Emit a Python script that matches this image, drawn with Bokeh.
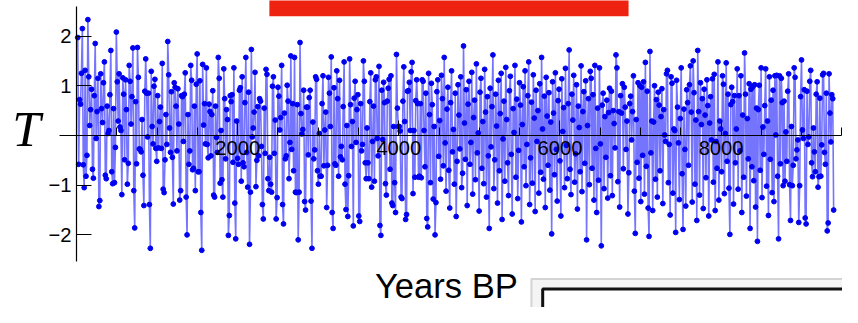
import numpy as np
from bokeh.plotting import figure
from bokeh.models import FixedTicker, Range1d
from bokeh.core.properties import value
from bokeh.embed import file_html
from bokeh.resources import INLINE

# ---- data (T anomaly vs Years BP), left to right ----
temp_0_1000 = [1.97, -0.58, 0.72, 0.63, 1.25, 2.15, -0.59, -1.05, 1.31, -0.82, -0.40, 2.33, 1.18, 0.20, 0.52, 0.93,
               -0.68, -0.86, 0.80, 1.85, -0.06, 0.48, 1.15, -1.43, -1.31, 1.24, 0.54, 0.26, 1.06, 1.48, -0.80, -0.87,
               0.59, 0.04, 0.10, 0.82, 1.71, -0.73, -0.97, 0.54, -0.95, -0.24, 2.08, 1.08, 0.29, 1.24, 0.17, 0.10,
               -1.19, 1.16, 0.83, -0.49, 1.12, 0.52, -0.98, -0.56, 1.41, 1.09, 0.23, 0.78, 1.76, -1.11, -1.86, 0.68,
               -0.57,
               1.77, 1.17, -0.27, -0.28, -0.33, 0.32, -0.80, -1.41, 0.89, 1.54, 0.85, -0.03, 0.85, -1.39, -2.27,
               1.29, 0.18, -0.17, 0.99, 1.13, -0.26, -0.52, 0.80, -0.25, 0.28, 0.57, -0.26, 1.45, -1.08, -1.15, -0.49,
               0.42, -0.18, 1.89, 1.22, 0.15, -0.34, 0.88, -0.44, -1.38, 1.06, 0.97, 0.59, -0.31, 0.94, 0.23, -1.30,
               -1.11, 0.80, 0.78, -0.12, 0.83, 1.26, -1.24, -2.00, 0.42, -0.58, -0.31, 1.41, 1.11, -0.69, -0.66, 0.59,
               -1.11, 1.03]
temp_1400_2400 = [1.64, -0.73, -0.73, 1.10, -1.55, -2.31, 1.43, 0.21, 0.64, -0.17, 1.36, -0.18, -0.45, 0.63, 0.48,
                  -0.41, 0.42, 0.90, -1.20, -1.24, 0.59, -0.04, -0.34, 1.57, 1.15, -0.96, 0.10, -0.89, -1.24, 1.34,
                  0.74, -0.47, 0.52, 0.32, -2.01, -1.61, 0.80, 0.68, 0.82, -0.54, 1.36, -1.36, -2.08, 0.29, -0.46,
                  -0.58, 0.91, 0.96, -0.92, 1.18, -0.55, -0.63, 0.66, 1.57, -0.34, -1.04, 0.87, -2.19, -1.14, 1.73,
                  -0.03, 0.15, 0.47, 1.27, -1.03, -0.50, 0.58, -0.41, 0.74, 0.69, -0.22, -1.39, -1.68, 0.55, -0.36,
                  1.33, 1.23, -0.87, -1.11, -0.44, -0.98, -1.14, 0.99, 1.18, -0.36]
temp_2400_3400 = [0.31, -1.68, -1.25, 0.97, 0.79, 0.11, 0.36, 1.41, -1.39, -1.78, 0.45, -0.47, -0.41, 1.01, 0.69,
                  -0.87, -0.14, 1.60, -0.28, 0.64, -0.71, 1.57, -1.14, -1.15, 0.62, -2.10, -1.14, 1.87, 0.44, 0.03,
                  0.12, 0.91, -1.33, -1.50, 0.57, 0.57, -0.39, 0.76, 0.91, -1.32, -2.27, 0.27, -0.47, -0.29, 1.18,
                  1.13, -0.71, -0.98, 0.04, -0.82, -0.82, 0.64, 1.20, -0.61, 0.11, 0.47, -1.45, -0.60, 1.17, 0.85,
                  0.18, 1.58, -1.55, -1.87, 0.96, -0.57, -0.60, 1.30, 0.74, -0.82, 1.11, -0.43, -0.22, -0.49, 0.58,
                  1.48, -0.98, -1.49, 0.20, -1.63, -0.81, 1.54, 0.62, -0.22, 0.28, -1.82]
temp_3400_4350 = [0.75, 1.09, -0.14, 0.52, 0.82, -1.62, -1.73, 0.64, -0.31, -0.18, 1.50, 1.09, -0.55, -0.87, 0.15,
                  -0.55, -0.87, 0.68, 1.26, -1.04, -0.12, 0.59, -0.92, 1.12, 1.18, -0.06, -0.41, 1.39, -1.81, -2.01,
                  0.91, -0.08, 1.07, 0.66, -0.97, -1.20, 0.69, 0.95, 1.13, -0.68, 1.20, -1.36, -1.41, 0.18, -0.95,
                  -1.55, 1.63, 0.55, 0.18, 0.18, 0.09, -1.24, -1.27, 0.69, 1.38, 0.28, -1.69, -1.59, 0.89, 0.90, 1.07,
                  0.10, 1.28, 1.47, -1.17, 0.10, -0.84, 0.70, 1.12, 0.64, -0.84, -0.82, 0.64, -0.85, 1.12, 1.09, 0.10,
                  -0.63, 0.85, -1.67, -1.84, 1.25]
temp_4350_6400 = [0.42, -0.95, 1.05, 0.62, -1.28, 0.18, -2.00, -1.35, 0.88, 1.12, -0.42, 0.30, -0.88, 1.21, 0.74,
                  -0.61, 1.57, -0.15, -1.12, 0.53, 0.97, -0.70,
                  -1.46, 0.66, 1.30, -0.33, 0.12, -0.98, 0.85, -1.63, -0.52, 1.02, 0.41, -0.27, 1.18, -1.05, -0.76,
                  1.80, 0.25, -0.48, 0.92, -1.41, 0.63, 1.09,
                  -0.58, -0.14, 1.27, -1.18, 0.36, 0.71, -0.89, 1.44, -0.35, 0.05, -1.52, 0.87, 1.15, -0.66, 0.28,
                  -0.97, 1.33, 0.47, -1.24, 0.78, -0.41, -1.87,
                  0.95, -0.23, 0.58, 1.62, -1.07, -0.49, 0.83, 0.19, -1.36, 1.11, -0.71, 0.44, 1.25, -1.69, -0.07,
                  0.69, -0.92, 1.37, 0.32, -0.55, -1.21, 0.90,
                  1.19, -0.38, -1.58, 0.54, 0.06, 1.41, -0.84, 0.73, -1.27, -0.30, 1.06, 0.61, -1.74, 0.22, 0.98,
                  -0.63, 1.30, -1.01, -0.18, 0.80, 1.48, -1.39,
                  -0.45, 0.67, -0.96, 1.22, 0.35, -1.53, 0.91, -0.12, 0.50, -1.16, 1.04, -0.74, 1.57, 0.13, -0.88,
                  0.79, -1.45, 1.17, 0.39, -0.60, 0.86, -1.10,
                  0.27, -1.98, 1.08, 0.45, -0.79, 1.26, -0.28, -1.32, 0.70, 0.93, -0.51, -1.62, 1.14, 0.08, 0.56,
                  -1.05, 1.35, -0.20, -0.87, 0.64, 1.72, -0.68,
                  -1.19, 0.83, 0.31, 1.21, -0.94, -0.37, 1.02, -1.48, 0.59, 0.16, -0.73, 1.40, -1.13, 0.48, 0.88,
                  -0.56, 1.10, -2.10, 0.20, 0.74, -0.99, 1.29,
                  1.15, -0.66, 0.82, -1.30, 1.41, -0.26, -1.55, 0.55, -0.90, 1.36, -0.17, -2.22, 0.61, 0.85, -1.07,
                  0.38, -0.44, 0.71, -1.26, 0.46, 0.95, -0.81]
temp_6400_8800 = [0.89, -1.21, 0.50, 0.24, -0.25, 1.62, 1.36, -0.93, 0.48, -1.44, 0.80, 0.45, 1.04, -0.67, 0.97,
                  0.57, -0.28, 0.29, -1.58, -0.75, 0.64, 0.79,
                  -0.09, 0.48, 1.20, -1.12, -1.97, 0.32, -0.54, 1.06, -0.86, 1.00, -1.33, 0.97, -0.40, 1.08, -1.18,
                  1.47, -0.62, 0.89, -1.46, -2.03, 1.69, -0.35,
                  0.29, -1.51, 0.27, 1.00, -0.88, 0.72, -1.24, 0.87, 0.61, -0.71, 0.38, 0.94, -1.37, 0.52, 0.01,
                  -0.12, 1.24, 1.31, -0.95, -0.18, -1.60, 1.18,
                  1.05, -1.16, 0.13, 0.10, -1.95, 1.11, 0.57, -0.15, -1.29, 0.34, 1.36, -0.77, -1.89, 0.53, -0.28,
                  -1.42, 0.92, 0.66, -0.60, 1.02, 1.40, 0.47,
                  -1.34, 1.50, 0.86, -0.98, 0.31, -1.71, 1.71, 0.48, -1.20, 1.06, 0.22, 0.74, -1.47, 0.93, 0.41,
                  -0.85, 1.12, 0.60, -1.62, 0.25, 0.78, -0.09,
                  1.14, -0.94, 1.23, -1.51, -0.12, -0.66, 1.48, -1.30, 0.29, 0.13, -0.73, 1.20, 1.03, -1.17, 0.04,
                  1.46, -0.52, 0.83, -1.06, -1.99, 0.62, 0.97,
                  0.68, -1.38, 0.80, -0.55, 0.13, 1.34, -1.08, 0.80, -0.31, 1.20, -1.55, 0.41, -0.84, 1.66, 0.83,
                  -1.22, 0.34, -0.47, 1.04, -1.87, 0.93, -0.63,
                  0.98, -0.91, 1.02, -1.44, 0.55, -2.13, 0.52, 1.01, -0.70, 1.36, -1.25, 0.17, -0.38, 0.60, 1.34,
                  -1.02, 0.29, -1.61, 1.18, -0.48, 0.71, -1.15,
                  0.91, -1.33, 1.20, 0.01, 1.21, -0.82, -2.08, 1.20, -0.57, 1.15, 0.66, -1.01, 0.69]
temp_8800_9400 = [-0.92, 0.07, -0.52, 0.89, 1.24, -0.99, -1.71, 0.18, -1.01, -0.60, 1.36, 1.17, -0.47, -0.29, -0.09,
                  -1.75, -1.01, 0.78, 1.52, 0.11, -0.06, 0.92, -1.66, -1.78, 0.89, -0.18, -0.03, 1.09, 1.31, -0.55,
                  -0.83, 0.15, -0.33, -0.73, 0.83, 1.08, -1.04, -0.83, 0.75, -0.82, -0.19, 1.22, 1.25, -0.34, -0.58,
                  0.85, -1.92, -1.76, 1.24, 0.45, -0.13, 0.82, 0.74, -1.50]

first_year, last_year = 15, 9397   # the series is evenly spaced in time between these

x_major = [2000, 4000, 6000, 8000]
x_minor = [500 * k for k in range(1, 20) if (500 * k) % 2000 != 0]
y_ticks = [-2, -1, 1, 2]
y_labels = {-2: "\u22122", -1: "\u22121", 1: "1", 2: "2"}

# ---- geometry: reference picture pixels (858 x 323) <-> data ----
W, H = 842, 307
REF_W, REF_H = 858, 323
S = 0.96   # overall shrink of sizes/fonts to fit the canvas
X0_PX, PX_PER_YEAR = 77.5, 0.0821
Y0_PX, PX_PER_UNIT = 142.0, 52.3


def xd(px):
    return (px - X0_PX) / PX_PER_YEAR


def yd(py):
    return (Y0_PX - py) / PX_PER_UNIT


def fs(px):
    return f"{px * S:.1f}px"


temps = (temp_0_1000 + temp_1400_2400 + temp_2400_3400 + temp_3400_4350
         + temp_4350_6400 + temp_6400_8800 + temp_8800_9400)
years = first_year + (last_year - first_year) * np.arange(len(temps)) / (len(temps) - 1)

p = figure(width=W, height=H, output_backend="svg", toolbar_location=None,
           x_range=Range1d(xd(0), xd(REF_W)), y_range=Range1d(yd(REF_H), yd(0)),
           min_border=0, background_fill_color="white", border_fill_color="white")
p.outline_line_color = None
p.grid.visible = False

# red banner at the top
p.quad(left=xd(274), right=xd(640), top=yd(-5), bottom=yd(16.5), fill_color="#EE2210", line_color=None)

# framed box lower right
p.quad(left=xd(541), right=xd(1000), top=yd(293), bottom=yd(500), fill_color="#f4f4f4",
       line_color="#d4d4d4", line_width=2)
p.quad(left=xd(552.5), right=xd(1000), top=yd(303.5), bottom=yd(500), fill_color="white",
       line_color="#111111", line_width=3)

p.line(years, temps, line_color="#2a2aff", line_alpha=0.65, line_width=1.6)
p.scatter(years, temps, size=4.8, fill_color="#0000f0", line_color="#0000f0")

# axes through the origin
p.xaxis.fixed_location = 0
p.yaxis.fixed_location = 0
p.xaxis.bounds = (xd(60), xd(857))
p.yaxis.bounds = (yd(275), yd(6))
p.xaxis.ticker = FixedTicker(ticks=x_major, minor_ticks=x_minor)
p.yaxis.ticker = FixedTicker(ticks=y_ticks, minor_ticks=[])
p.yaxis.major_label_overrides = y_labels
for ax in (p.xaxis[0], p.yaxis[0]):
    ax.axis_line_color = "black"
    ax.axis_line_width = 1.2
    ax.major_tick_line_color = "black"
    ax.minor_tick_line_color = "black"
    ax.major_tick_in = 15
    ax.major_tick_out = 0
    ax.minor_tick_in = 8
    ax.minor_tick_out = 0
    ax.major_label_text_font = "Liberation Sans"
    ax.major_label_text_font_size = fs(21)
    ax.major_label_text_color = "black"
p.xaxis.major_label_standoff = 6
p.yaxis.major_label_standoff = 5

p.text(x=[xd(12)], y=[yd(135)], text=["T"], text_font=value("Liberation Serif"), text_font_style="italic",
       text_font_size=fs(53), text_baseline="alphabetic", text_align="left", text_color="black")
p.text(x=[xd(381.5)], y=[yd(300)], text=["Years BP"], text_font=value("Liberation Sans"),
       text_font_size=fs(36), text_baseline="alphabetic", text_align="left", text_color="black")

open("out.html", "w").write(file_html(p, INLINE))
